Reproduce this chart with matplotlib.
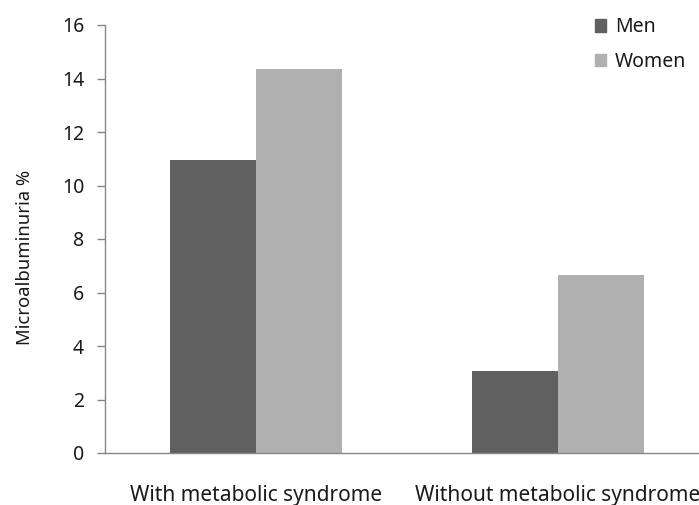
import matplotlib.pyplot as plt
import matplotlib.patches as mpatches
import numpy as np

categories = ["With metabolic syndrome", "Without metabolic syndrome"]
men = [10.95, 3.07]
women = [14.35, 6.65]
series_names = ["Men", "Women"]

MEN_C = "#606060"
WOMEN_C = "#b0b0b0"
AXIS_C = "#868686"
TEXT_C = "#1a1a1a"

plt.rcParams["font.family"] = ["Noto Sans", "DejaVu Sans"]

fig = plt.figure(figsize=(6.99, 5.05), dpi=100)
W, H = 699, 505
ax = fig.add_axes([105 / W, (H - 453) / H, 604 / W, 428 / H])

x = np.arange(len(categories))
bw = 0.285
ax.bar(x - bw / 2, men, bw, color=MEN_C, label=series_names[0])
ax.bar(x + bw / 2, women, bw, color=WOMEN_C, label=series_names[1])

ax.set_xlim(-0.5, 1.5)
ax.set_ylim(0, 16)
ax.set_yticks(range(0, 17, 2))
ax.set_xticks(x)
ax.set_xticklabels(categories)
ax.tick_params(axis="x", length=0, pad=23, labelsize=15, labelcolor=TEXT_C)
ax.tick_params(axis="y", length=6, width=1, color=AXIS_C, pad=9,
               labelsize=14, labelcolor=TEXT_C)

for s in ["top", "right"]:
    ax.spines[s].set_visible(False)
for s in ["left", "bottom"]:
    ax.spines[s].set_color(AXIS_C)
    ax.spines[s].set_linewidth(1)

fig.text(25 / W, 1 - 257 / H, "Microalbuminuria %", rotation=90,
         ha="center", va="center", fontsize=13.3, color=TEXT_C)

handles = [mpatches.Patch(color=MEN_C, label=series_names[0]),
           mpatches.Patch(color=WOMEN_C, label=series_names[1])]
fig.legend(handles=handles, loc="upper left", bbox_to_anchor=(577 / W, 1 - 0 / H),
           frameon=False, handlelength=0.6, handleheight=0.6, handletextpad=0.45,
           labelspacing=0.75, fontsize=14, labelcolor=TEXT_C)

fig.savefig("out.png", dpi=100)
